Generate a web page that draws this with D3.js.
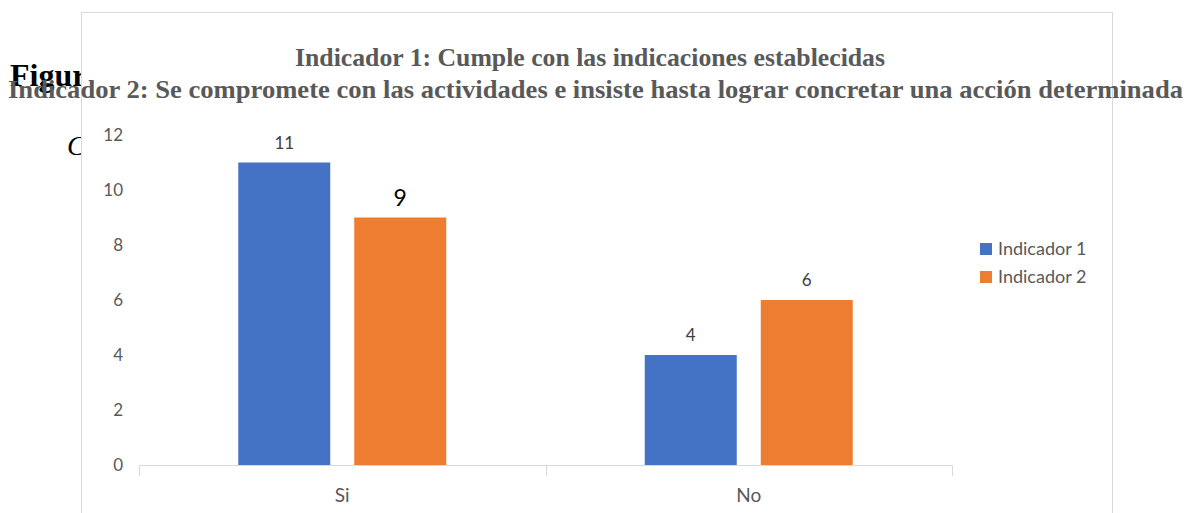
<!DOCTYPE html>
<html>
<head>
<meta charset="utf-8">
<script src="https://cdn.jsdelivr.net/npm/d3@7"></script>
<style>
  body { margin: 0; background: #fff; }
  svg { display: block; }
  .serif { font-family: "Liberation Serif", "Times New Roman", serif; }
  .sans { font-family: Lato, "Open Sans", sans-serif; }
</style>
</head>
<body>
<svg id="chart" width="1194" height="513"></svg>
<script>
// data
const categories = ['Si', 'No']
const seriesNames = ['Indicador 1', 'Indicador 2']
const indicador1 = [11, 4]
const indicador2 = [9, 6]
const yTicks = [0, 2, 4, 6, 8, 10, 12]
const titleLines = [
  'Indicador 1: Cumple con las indicaciones establecidas',
  'Indicador 2: Se compromete con las actividades e insiste hasta lograr concretar una acción determinada'
]
const colors = ['#4472C4', '#ED7D31']

const svg = d3.select('#chart')

////////////////////////// PAGE TEXT BEHIND //////////////////////////

svg.append('text')
  .attr('class', 'serif')
  .attr('x', 10).attr('y', 86)
  .style('font-size', '32px').style('font-weight', 'bold')
  .text('Figura')

svg.append('text')
  .attr('class', 'serif')
  .attr('x', 67).attr('y', 155)
  .style('font-size', '28px').style('font-style', 'italic')
  .text('Cumplimiento')

////////////////////////// CHART BOX //////////////////////////

svg.append('rect')
  .attr('x', 81.5).attr('y', 12.5)
  .attr('width', 1031).attr('height', 520)
  .attr('fill', '#fff')
  .attr('stroke', '#d9d9d9')

// scales
const margin = { left: 139, right: 952, top: 135, bottom: 465 }
const x0 = d3.scaleBand().domain(categories).range([margin.left, margin.right])
const y = d3.scaleLinear().domain([0, 12]).range([margin.bottom, margin.top])

const barW = 92
const barGap = 24
const x1 = d3.scaleOrdinal().domain(seriesNames)
  .range([-barGap / 2 - barW, barGap / 2])

const rows = categories.map((c, i) => ({
  key: c,
  values: [
    { name: seriesNames[0], value: indicador1[i], cat: c },
    { name: seriesNames[1], value: indicador2[i], cat: c }
  ]
}))

// y axis labels (no axis line)
const yAxis = d3.axisLeft(y).tickValues(yTicks).tickSize(0).tickPadding(16)
const yG = svg.append('g')
  .attr('transform', `translate(${margin.left},0)`)
  .call(yAxis)
yG.select('.domain').remove()
yG.selectAll('text')
  .attr('class', 'sans')
  .style('font-size', '17px')
  .attr('fill', '#595959')

// x axis
const xAxis = d3.axisBottom(x0).tickSize(0)
const xG = svg.append('g')
  .attr('transform', `translate(0,${margin.bottom})`)
  .call(xAxis)
xG.select('.domain').attr('stroke', '#d9d9d9')
xG.selectAll('text')
  .attr('class', 'sans')
  .style('font-size', '19px')
  .attr('fill', '#595959')
  .attr('y', 37)
  .attr('dy', 0)

// category separator ticks
const tickXs = [x0.range()[0]].concat(categories.map(c => x0(c) + x0.bandwidth()))
xG.selectAll('.sep')
  .data(tickXs)
  .enter()
  .append('line')
  .attr('class', 'sep')
  .attr('x1', d => Math.round(d) + 0.5)
  .attr('x2', d => Math.round(d) + 0.5)
  .attr('y1', 0).attr('y2', 11)
  .attr('stroke', '#d9d9d9')

// bars
const groups = svg.selectAll('.cat')
  .data(rows)
  .enter()
  .append('g')
  .attr('class', 'cat')
  .attr('transform', d => `translate(${x0(d.key) + x0.bandwidth() / 2},0)`)

groups.selectAll('rect')
  .data(d => d.values)
  .enter()
  .append('rect')
  .attr('x', d => x1(d.name))
  .attr('y', d => y(d.value))
  .attr('width', barW)
  .attr('height', d => y(0) - y(d.value))
  .attr('fill', (d, i) => colors[i])

// the "9" label in the original is bigger and black
const isBig = (d) => d.cat === 'Si' && d.name === 'Indicador 2'

groups.selectAll('.bar-value')
  .data(d => d.values)
  .enter()
  .append('text')
  .attr('class', 'bar-value sans')
  .attr('x', d => x1(d.name) + barW / 2)
  .attr('y', d => y(d.value) - (isBig(d) ? 12 : 14))
  .attr('text-anchor', 'middle')
  .style('font-size', d => isBig(d) ? '23px' : '17px')
  .attr('fill', d => isBig(d) ? '#000' : '#404040')
  .text(d => d.value)

// legend
const legend = svg.append('g').attr('transform', 'translate(980,243)')
const items = legend.selectAll('g')
  .data(seriesNames)
  .enter()
  .append('g')
  .attr('transform', (d, i) => `translate(0,${i * 28})`)
items.append('rect')
  .attr('width', 12).attr('height', 12)
  .attr('fill', (d, i) => colors[i])
items.append('text')
  .attr('class', 'sans')
  .attr('x', 18).attr('y', 6)
  .attr('dy', '0.35em')
  .style('font-size', '18px')
  .attr('fill', '#595959')
  .text(d => d)

// title
const titleWidths = [590, 1175]
const titleCenters = [590, 595.5]
svg.selectAll('.title')
  .data(titleLines)
  .enter()
  .append('text')
  .attr('class', 'title serif')
  .attr('x', (d, i) => titleCenters[i])
  .attr('y', (d, i) => 66 + i * 32)
  .attr('text-anchor', 'middle')
  .attr('textLength', (d, i) => titleWidths[i])
  .attr('lengthAdjust', 'spacingAndGlyphs')
  .style('font-size', '26px')
  .style('font-weight', 'bold')
  .attr('fill', '#595959')
  .text(d => d)
</script>
</body>
</html>
